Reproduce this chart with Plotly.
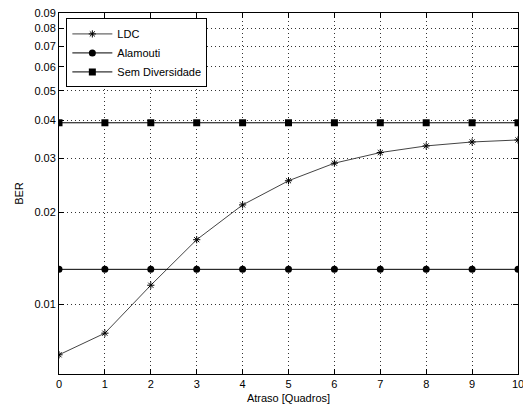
import numpy as np
import plotly.graph_objects as go

# Atraso em quadros
atraso = [0, 1, 2, 3, 4, 5, 6, 7, 8, 9, 10]

# BER por esquema
ber_ldc = [0.00682, 0.00803, 0.01153, 0.01626, 0.02114, 0.02537, 0.02897, 0.03139, 0.0330, 0.0340, 0.03452]
ber_alamouti = [0.0130] * 11
ber_sem_div = [0.0393] * 11

y_ticks = [0.01, 0.02, 0.03, 0.04, 0.05, 0.06, 0.07, 0.08, 0.09]
y_tick_text = ["0.01", "0.02", "0.03", "0.04", "0.05", "0.06", "0.07", "0.08", "0.09"]
x_ticks = list(range(0, 11))

font = dict(family="Liberation Sans, Arial, sans-serif", size=11, color="#000000")

fig = go.Figure()
fig.add_trace(go.Scatter(
    x=atraso, y=ber_ldc, name="LDC", mode="lines+markers",
    line=dict(color="#444444", width=1),
    marker=dict(symbol="asterisk-open", size=6, color="#000000",
                line=dict(color="#000000", width=1)),
))
fig.add_trace(go.Scatter(
    x=atraso, y=ber_alamouti, name="Alamouti", mode="lines+markers",
    line=dict(color="#000000", width=1),
    marker=dict(symbol="circle", size=7, color="#000000"),
))
fig.add_trace(go.Scatter(
    x=atraso, y=ber_sem_div, name="Sem Diversidade", mode="lines+markers",
    line=dict(color="#000000", width=1),
    marker=dict(symbol="square", size=7, color="#000000"),
))

fig.update_layout(
    width=523, height=412,
    margin=dict(l=59, r=5, t=13, b=38),
    paper_bgcolor="white", plot_bgcolor="white",
    font=font,
    showlegend=True,
    legend=dict(
        x=0.016, y=0.985, xanchor="left", yanchor="top",
        bgcolor="white", bordercolor="#000000", borderwidth=1,
        font=font, tracegroupgap=0, itemwidth=40,
    ),
)

grid = dict(showgrid=True, gridcolor="#333333", gridwidth=1, griddash="1px,3px")

fig.update_xaxes(
    range=[0, 10], tickvals=x_ticks,
    showline=True, linecolor="#000000", linewidth=1, mirror="ticks",
    ticks="inside", ticklen=5, tickcolor="#000000",
    ticklabeloverflow="allow", automargin=False,
    zeroline=False,
    title=dict(text="Atraso [Quadros]", font=font, standoff=5),
    **grid,
)
fig.update_yaxes(
    type="log", range=[np.log10(0.0059), np.log10(0.09)],
    tickvals=y_ticks, ticktext=y_tick_text,
    showline=True, linecolor="#000000", linewidth=1, mirror="ticks",
    ticks="inside", ticklen=5, tickcolor="#000000",
    automargin=False,
    zeroline=False,
    title=dict(text="BER", font=font, standoff=8),
    **grid,
)

fig.write_html("out.html")
